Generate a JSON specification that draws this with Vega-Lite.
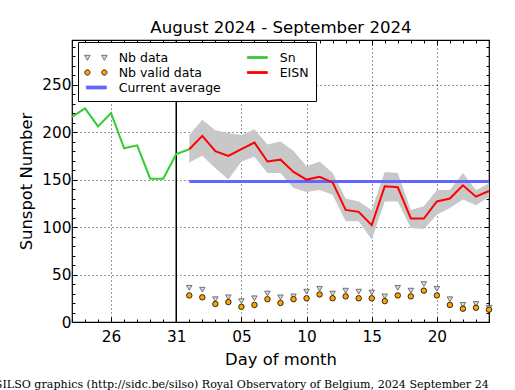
{
  "$schema": "https://vega.github.io/schema/vega-lite/v6.json",
  "width": 417,
  "height": 282,
  "autosize": {"type": "none"},
  "padding": {"left": 72, "top": 40, "right": 26, "bottom": 68},
  "background": "white",
  "title": {
    "text": "SILSO graphics (http://sidc.be/silso) Royal Observatory of Belgium, 2024 September 24",
    "orient": "bottom",
    "anchor": "start",
    "dx": -24,
    "offset": 11,
    "font": "DejaVu Serif",
    "fontSize": 11.1,
    "fontWeight": "normal",
    "color": "black"
  },
  "config": {
    "font": "DejaVu Sans",
    "view": {"stroke": "black", "strokeWidth": 1.2},
    "axis": {
      "domain": false,
      "labelFont": "DejaVu Sans",
      "labelFontSize": 15.3,
      "labelColor": "black",
      "titleFont": "DejaVu Sans",
      "titleFontSize": 16.4,
      "titleFontWeight": "normal",
      "titleColor": "black",
      "tickColor": "black",
      "tickWidth": 1,
      "gridColor": "black",
      "gridDash": [1, 3],
      "gridWidth": 0.8,
      "labelOverlap": false,
      "labelFlush": false
    }
  },
  "data": {
    "values": [
      {"date": "2024-08-23", "sn": 216},
      {"date": "2024-08-24", "sn": 225},
      {"date": "2024-08-25", "sn": 206},
      {"date": "2024-08-26", "sn": 220},
      {"date": "2024-08-27", "sn": 183},
      {"date": "2024-08-28", "sn": 186},
      {"date": "2024-08-29", "sn": 151},
      {"date": "2024-08-30", "sn": 151},
      {"date": "2024-08-31", "sn": 177},
      {"date": "2024-09-01", "sn": 182, "eisn": 182, "lo": 168, "hi": 197, "nb": 36, "nbv": 28, "avg": 148},
      {"date": "2024-09-02", "eisn": 196, "lo": 175, "hi": 213, "nb": 34, "nbv": 26, "avg": 148},
      {"date": "2024-09-03", "eisn": 180, "lo": 162, "hi": 202, "nb": 24, "nbv": 19, "avg": 148},
      {"date": "2024-09-04", "eisn": 175, "lo": 150, "hi": 199, "nb": 26, "nbv": 21, "avg": 148},
      {"date": "2024-09-05", "eisn": 182, "lo": 169, "hi": 197, "nb": 22, "nbv": 16, "avg": 148},
      {"date": "2024-09-06", "eisn": 189, "lo": 174, "hi": 203, "nb": 25, "nbv": 18, "avg": 148},
      {"date": "2024-09-07", "eisn": 169, "lo": 157, "hi": 187, "nb": 30, "nbv": 24, "avg": 148},
      {"date": "2024-09-08", "eisn": 171, "lo": 157, "hi": 190, "nb": 26, "nbv": 20, "avg": 148},
      {"date": "2024-09-09", "eisn": 158, "lo": 141, "hi": 180, "nb": 27, "nbv": 24, "avg": 148},
      {"date": "2024-09-10", "eisn": 150, "lo": 137, "hi": 164, "nb": 32, "nbv": 25, "avg": 148},
      {"date": "2024-09-11", "eisn": 153, "lo": 139, "hi": 169, "nb": 35, "nbv": 29, "avg": 148},
      {"date": "2024-09-12", "eisn": 147, "lo": 134, "hi": 157, "nb": 30, "nbv": 25, "avg": 148},
      {"date": "2024-09-13", "eisn": 118, "lo": 106, "hi": 130, "nb": 33, "nbv": 27, "avg": 148},
      {"date": "2024-09-14", "eisn": 116, "lo": 106, "hi": 127, "nb": 32, "nbv": 25, "avg": 148},
      {"date": "2024-09-15", "eisn": 102, "lo": 87, "hi": 118, "nb": 31, "nbv": 25, "avg": 148},
      {"date": "2024-09-16", "eisn": 143, "lo": 127, "hi": 158, "nb": 27, "nbv": 22, "avg": 148},
      {"date": "2024-09-17", "eisn": 142, "lo": 127, "hi": 157, "nb": 36, "nbv": 28, "avg": 148},
      {"date": "2024-09-18", "eisn": 109, "lo": 99, "hi": 118, "nb": 33, "nbv": 27, "avg": 148},
      {"date": "2024-09-19", "eisn": 109, "lo": 98, "hi": 122, "nb": 40, "nbv": 33, "avg": 148},
      {"date": "2024-09-20", "eisn": 127, "lo": 113, "hi": 139, "nb": 35, "nbv": 28, "avg": 148},
      {"date": "2024-09-21", "eisn": 130, "lo": 120, "hi": 139, "nb": 24, "nbv": 18, "avg": 148},
      {"date": "2024-09-22", "eisn": 144, "lo": 129, "hi": 157, "nb": 18, "nbv": 14, "avg": 148},
      {"date": "2024-09-23", "eisn": 132, "lo": 123, "hi": 139, "nb": 19, "nbv": 15, "avg": 148},
      {"date": "2024-09-24", "eisn": 138, "lo": 132, "hi": 146, "nb": 15, "nbv": 13, "avg": 148}
    ]
  },
  "encoding": {
    "x": {
      "field": "date",
      "type": "temporal",
      "scale": {"type": "utc", "domain": [{"year": 2024, "month": 8, "date": 23, "utc": true}, {"year": 2024, "month": 9, "date": 24, "utc": true}]},
      "axis": null
    }
  },
  "layer": [
    {
      "transform": [{"filter": "isValid(datum.lo)"}],
      "mark": {"type": "area", "color": "#c8c8c8", "opacity": 1},
      "encoding": {
        "x": {
          "field": "date",
          "type": "temporal",
          "scale": {"type": "utc", "domain": [{"year": 2024, "month": 8, "date": 23, "utc": true}, {"year": 2024, "month": 9, "date": 24, "utc": true}]},
          "axis": {
            "orient": "bottom",
            "title": "Day of month",
            "titlePadding": 5,
            "tickCount": {"interval": "day", "step": 1},
            "labelExpr": "indexof([26,31,5,10,15,20], utcdate(datum.value)) >= 0 ? utcFormat(datum.value, '%d') : ''",
            "labelPadding": 12,
            "tickSize": {"condition": {"test": "indexof([26,31,5,10,15,20], utcdate(datum.value)) >= 0", "value": -5}, "value": -3},
            "grid": true,
            "gridOpacity": {"condition": {"test": "indexof([26,31,5,10,15,20], utcdate(datum.value)) >= 0", "value": 1}, "value": 0}
          }
        },
        "y": {
          "field": "lo",
          "type": "quantitative",
          "scale": {"domain": [0, 297], "nice": false, "zero": true},
          "axis": {
            "orient": "left",
            "title": "Sunspot Number",
            "titlePadding": 7,
            "values": [0,10,20,30,40,50,60,70,80,90,100,110,120,130,140,150,160,170,180,190,200,210,220,230,240,250,260,270,280,290],
            "labelExpr": "datum.value % 50 === 0 ? datum.label : ''",
            "labelPadding": 6,
            "tickSize": {"condition": {"test": "datum.value % 50 === 0", "value": -5}, "value": -3},
            "grid": true,
            "gridOpacity": {"condition": {"test": "datum.value % 50 === 0", "value": 1}, "value": 0}
          }
        },
        "y2": {"field": "hi"}
      }
    },
    {
      "transform": [{"filter": "isValid(datum.avg)"}],
      "mark": {"type": "line", "color": "#6464ff", "strokeWidth": 3},
      "encoding": {
        "x": {
          "field": "date",
          "type": "temporal",
          "scale": {"type": "utc", "domain": [{"year": 2024, "month": 8, "date": 23, "utc": true}, {"year": 2024, "month": 9, "date": 24, "utc": true}]},
          "axis": {
            "orient": "top",
            "title": "August 2024 - September 2024",
            "titleFontSize": 16.6,
            "titlePadding": 4,
            "labels": false,
            "grid": false,
            "tickCount": {"interval": "day", "step": 1},
            "tickSize": {"condition": {"test": "indexof([26,31,5,10,15,20], utcdate(datum.value)) >= 0", "value": -5}, "value": -3}
          }
        },
        "y": {
          "field": "avg",
          "type": "quantitative",
          "scale": {"domain": [0, 297], "nice": false, "zero": true},
          "axis": {
            "orient": "right",
            "title": null,
            "labels": false,
            "grid": false,
            "values": [0,10,20,30,40,50,60,70,80,90,100,110,120,130,140,150,160,170,180,190,200,210,220,230,240,250,260,270,280,290],
            "tickSize": {"condition": {"test": "datum.value % 50 === 0", "value": -5}, "value": -3}
          }
        }
      }
    },
    {
      "data": {"values": [{"date": "2024-08-31"}]},
      "mark": {"type": "rule", "color": "black", "strokeWidth": 1.5},
      "encoding": {}
    },
    {
      "transform": [{"filter": "isValid(datum.sn)"}],
      "mark": {"type": "line", "color": "#33cc33", "strokeWidth": 2},
      "encoding": {
        "y": {"field": "sn", "type": "quantitative", "scale": {"domain": [0, 297], "nice": false}, "axis": null}
      }
    },
    {
      "transform": [{"filter": "isValid(datum.eisn)"}],
      "mark": {"type": "line", "color": "#ff0000", "strokeWidth": 2},
      "encoding": {
        "y": {"field": "eisn", "type": "quantitative", "scale": {"domain": [0, 297], "nice": false}, "axis": null}
      }
    },
    {
      "transform": [{"filter": "isValid(datum.nb)"}],
      "mark": {"type": "point", "shape": "triangle-down", "filled": true, "fill": "#d8d8d8", "stroke": "#555555", "strokeWidth": 0.8, "size": 30, "opacity": 1},
      "encoding": {
        "y": {"field": "nb", "type": "quantitative", "scale": {"domain": [0, 297], "nice": false}, "axis": null}
      }
    },
    {
      "transform": [{"filter": "isValid(datum.nbv)"}],
      "mark": {"type": "point", "shape": "circle", "filled": true, "fill": "#ffa500", "stroke": "black", "strokeWidth": 0.8, "size": 30, "opacity": 1},
      "encoding": {
        "y": {"field": "nbv", "type": "quantitative", "scale": {"domain": [0, 297], "nice": false}, "axis": null}
      }
    },
    {
      "transform": [{"filter": "false"}],
      "mark": {"type": "point", "filled": true, "size": 240, "strokeWidth": 0.8, "opacity": 1},
      "encoding": {
        "fill": {
          "field": "series", "type": "nominal",
          "scale": {"domain": ["Nb data", "Nb valid data", "Current average", "Sn", "EISN"], "range": ["#d8d8d8", "#ffa500", "#6464ff", "#33cc33", "#ff0000"]},
          "legend": {"title": null, "orient": "none", "legendX": 6, "legendY": 2, "columns": 2, "symbolSize": 240, "symbolStrokeWidth": 0.8, "labelFont": "DejaVu Sans", "labelFontSize": 12.5, "labelColor": "black", "labelOffset": 16.7, "columnPadding": 24, "rowPadding": 0, "padding": 7, "fillColor": "white", "strokeColor": "black", "cornerRadius": 0, "labelLimit": 250}
        },
        "stroke": {
          "field": "series", "type": "nominal",
          "scale": {"domain": ["Nb data", "Nb valid data", "Current average", "Sn", "EISN"], "range": ["#555555", "#000000", "#6464ff", "#33cc33", "#ff0000"]},
          "legend": {"title": null, "orient": "none", "legendX": 6, "legendY": 2, "columns": 2, "symbolSize": 240, "symbolStrokeWidth": 0.8, "labelFont": "DejaVu Sans", "labelFontSize": 12.5, "labelColor": "black", "labelOffset": 16.7, "columnPadding": 24, "rowPadding": 0, "padding": 7, "fillColor": "white", "strokeColor": "black", "cornerRadius": 0, "labelLimit": 250}
        },
        "shape": {
          "field": "series", "type": "nominal",
          "scale": {"domain": ["Nb data", "Nb valid data", "Current average", "Sn", "EISN"], "range": [
            "M-1.15,-0.28L-0.43,-0.28L-0.79,0.36Z M1.04,-0.28L1.76,-0.28L1.4,0.36Z",
            "M-1.13,0A0.34,0.34,0,1,0,-0.45,0A0.34,0.34,0,1,0,-1.13,0Z M1.06,0A0.34,0.34,0,1,0,1.74,0A0.34,0.34,0,1,0,1.06,0Z",
            "M-0.92,-0.19H1.66V0.19H-0.92Z",
            "M-0.92,-0.13H1.66V0.13H-0.92Z",
            "M-0.92,-0.13H1.66V0.13H-0.92Z"
          ]},
          "legend": {"title": null, "orient": "none", "legendX": 6, "legendY": 2, "columns": 2, "symbolSize": 240, "symbolStrokeWidth": 0.8, "labelFont": "DejaVu Sans", "labelFontSize": 12.5, "labelColor": "black", "labelOffset": 16.7, "columnPadding": 24, "rowPadding": 0, "padding": 7, "fillColor": "white", "strokeColor": "black", "cornerRadius": 0, "labelLimit": 250}
        }
      }
    }
  ],
  "resolve": {"axis": {"x": "independent", "y": "independent"}}
}
